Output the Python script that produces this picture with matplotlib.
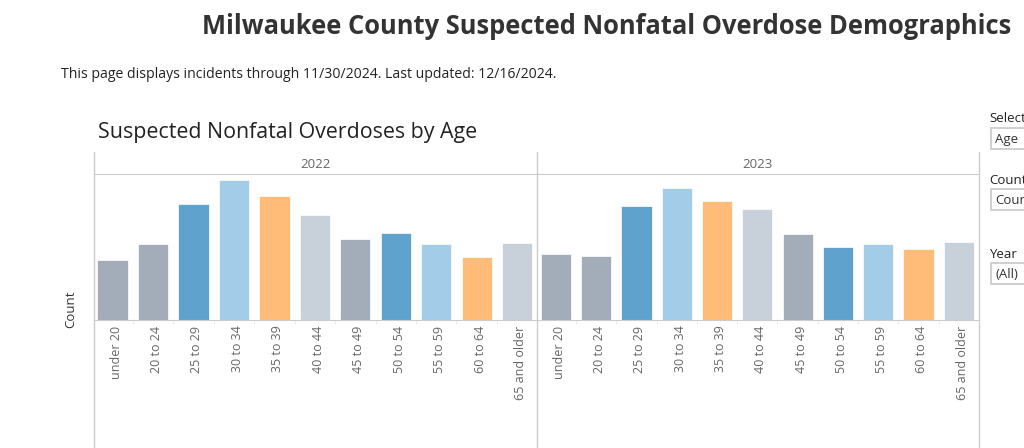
import matplotlib
matplotlib.use('Agg')
import matplotlib.pyplot as plt
from matplotlib.lines import Line2D
from matplotlib.patches import Rectangle
from matplotlib.transforms import ScaledTranslation

plt.rcParams['font.family'] = ['Open Sans', 'DejaVu Sans']

age_groups = ['under 20', '20 to 24', '25 to 29', '30 to 34', '35 to 39', '40 to 44',
              '45 to 49', '50 to 54', '55 to 59', '60 to 64', '65 and older']
# no y scale is shown in the picture, so these are relative heights
counts_2022 = [60, 75.7, 116, 139.7, 124, 105, 81.3, 87, 75.7, 63.3, 77]
counts_2023 = [65.7, 64.3, 114, 131.7, 119.3, 111.3, 86, 73.3, 75.7, 71.3, 78]
bar_colors = ['#a3acb9', '#a3acb9', '#5fa2ce', '#a3cce9', '#ffbc79', '#c8d0d9',
              '#a3acb9', '#5fa2ce', '#a3cce9', '#ffbc79', '#c8d0d9']

W, H = 1024, 448
GRID = '#cccccc'
fig = plt.figure(figsize=(W / 100, H / 100), dpi=100, facecolor='white')


def fx(x):
    return x / W


def fy(y):
    return 1 - y / H


def px_text(x, y, s, **kw):
    fig.text(fx(x), fy(y), s, va='center', **kw)


def px_line(x0, y0, x1, y1):
    fig.add_artist(Line2D([fx(x0), fx(x1)], [fy(y0), fy(y1)], color=GRID, lw=1))


def panel(left, right, values, year):
    ax = fig.add_axes([fx(left), fy(320), fx(right - left), (320 - 174) / H])
    ax.bar(range(len(age_groups)), values, width=0.75, color=bar_colors,
           edgecolor='white', linewidth=0.5)
    ax.set_xlim(-0.47, 10.49)
    ax.set_ylim(0, 146)
    ax.set_yticks([])
    ax.set_xticks(range(len(age_groups)))
    ax.set_xticklabels(age_groups, rotation=90, fontsize=9, color='#666666')
    ax.set_xticks([i + 0.5 for i in range(len(age_groups) - 1)], minor=True)
    ax.tick_params(axis='x', which='major', length=0, pad=4)
    ax.tick_params(axis='x', which='minor', length=3, color='#e6e6e6')
    # labels sit a little right of the bar centres
    nudge = ScaledTranslation(3.5 / 100, 0, fig.dpi_scale_trans)
    for lab in ax.get_xticklabels():
        lab.set_transform(lab.get_transform() + nudge)
    for side in ['left', 'right']:
        ax.spines[side].set_visible(False)
    ax.spines['top'].set_color(GRID)
    ax.spines['bottom'].set_color(GRID)
    px_text((left + right) / 2, 164, year, ha='center', fontsize=9.5, color='#666666')


panel(93.5, 537, counts_2022, '2022')
panel(537, 978.5, counts_2023, '2023')

for x in [93.5, 537, 978.5]:
    px_line(x, 152, x, H)

px_text(202, 27, 'Milwaukee County Suspected Nonfatal Overdose Demographics',
        fontsize=18.4, fontweight='bold', color='#333333')
px_text(61, 75, 'This page displays incidents through 11/30/2024. Last updated: 12/16/2024.',
        fontsize=10.1, color='#222222')
px_text(98, 132, 'Suspected Nonfatal Overdoses by Age', fontsize=15.4, color='#222222')
px_text(71, 309, 'Count', rotation=90, ha='center', fontsize=9.5, color='#333333')

# filter controls on the right, cut off by the page edge
for label_y, box_y, label, value in [(118, 128, 'Select', 'Age'),
                                     (180, 189, 'Count', 'Count'),
                                     (254, 263, 'Year', '(All)')]:
    px_text(989, label_y, label, fontsize=9.5, color='#222222', clip_on=True)
    fig.add_artist(Rectangle((fx(991), fy(box_y + 21)), fx(60), 21 / H,
                             facecolor='white', edgecolor=GRID, lw=1.3))
    px_text(995, box_y + 11.5, value, fontsize=9.5, color='#333333')

fig.savefig('out.png', dpi=100)
